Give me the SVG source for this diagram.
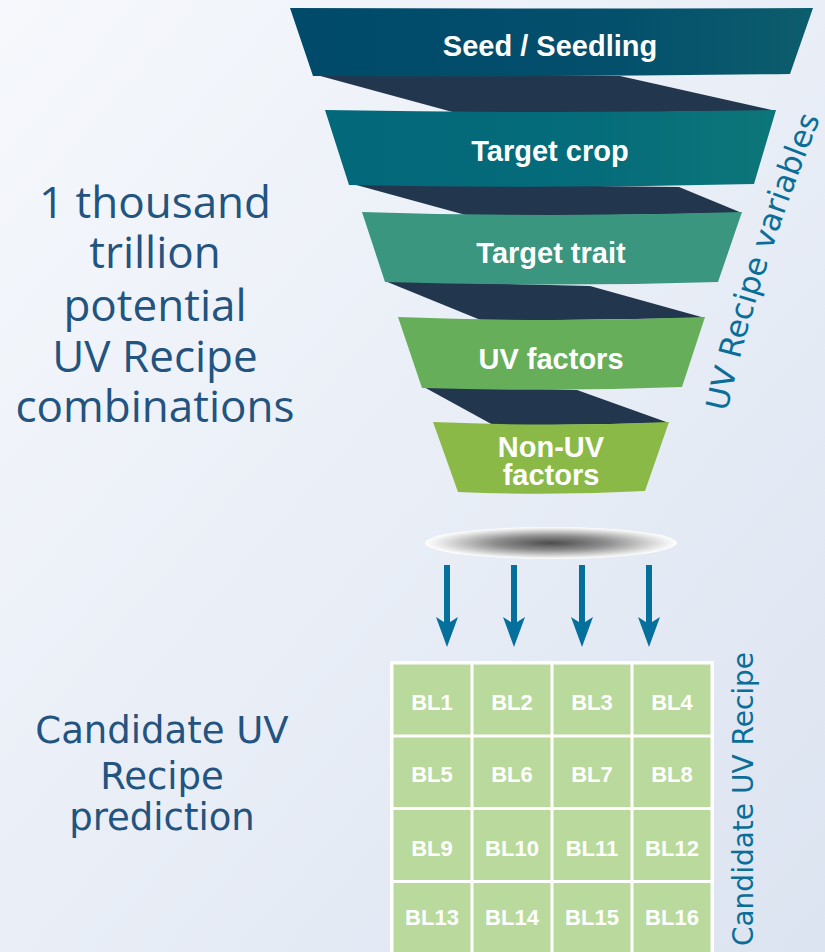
<svg xmlns="http://www.w3.org/2000/svg" width="825" height="952" viewBox="0 0 825 952">
  <defs>
    <linearGradient id="bg" x1="0" y1="0" x2="1" y2="1">
      <stop offset="0" stop-color="#f6f8fc"/>
      <stop offset="1" stop-color="#dce4f1"/>
    </linearGradient>
    <linearGradient id="g1" x1="0" y1="0" x2="1" y2="0">
      <stop offset="0" stop-color="#014a6a"/>
      <stop offset="0.6" stop-color="#034f6c"/>
      <stop offset="1" stop-color="#0c5d6d"/>
    </linearGradient>
    <linearGradient id="g2" x1="0" y1="0" x2="1" y2="0">
      <stop offset="0" stop-color="#03687a"/>
      <stop offset="0.6" stop-color="#056c7a"/>
      <stop offset="1" stop-color="#0d7679"/>
    </linearGradient>
    <radialGradient id="shadow" cx="0.5" cy="0.5" r="0.5">
      <stop offset="0" stop-color="#4c4c4c"/>
      <stop offset="0.45" stop-color="#8e8e8e"/>
      <stop offset="0.85" stop-color="#e2e2e2"/>
      <stop offset="1" stop-color="#ffffff"/>
    </radialGradient>
    <!-- notched arrowhead, pointing along +x; refX sits on the notch -->
    <marker id="head" viewBox="0 0 30 22" refX="7" refY="11" markerWidth="30" markerHeight="22" markerUnits="userSpaceOnUse" orient="auto">
      <path d="M0,0 L30,11 L0,22 L7,11 Z" fill="#05709b"/>
    </marker>
    <style>
      .ribbon { fill: #22364e; }
      .band-label { font-family: "Liberation Sans", Arial, sans-serif; font-weight: bold; font-size: 29px; fill: #ffffff; text-anchor: middle; }
      .cell { fill: #b9da9c; }
      .cell-label { font-family: "Liberation Sans", Arial, sans-serif; font-weight: bold; font-size: 22px; fill: #ffffff; text-anchor: middle; }
      .side-top { font-family: "Open Sans", "Noto Sans", sans-serif; font-size: 44px; fill: #23537f; text-anchor: middle; }
      .side-bottom { font-family: "DejaVu Sans", sans-serif; font-size: 37px; fill: #23537f; text-anchor: middle; }
      .axis-label { font-family: "DejaVu Sans", sans-serif; font-size: 28px; fill: #0a6e98; }
      .arrow { stroke: #05709b; stroke-width: 6; fill: none; }
    </style>
  </defs>

  <rect x="0" y="0" width="825" height="952" fill="url(#bg)"/>

  <!-- dark back faces of the funnel ribbon between the bands -->
  <g id="ribbons">
    <polygon class="ribbon" points="313,74 620,76 776,111 460,114"/>
    <polygon class="ribbon" points="349,183 679,187 742,213 473,217"/>
    <polygon class="ribbon" points="385,281 590,286 705,318 483,321"/>
    <polygon class="ribbon" points="422,386 577,390 669,423 495,426"/>
  </g>

  <!-- funnel bands -->
  <g id="band-seed">
    <path d="M290,8 Q551,9 813,8 L790,74 Q551,77 313,76 Z" fill="url(#g1)"/>
    <text class="band-label" x="550" y="56">Seed / Seedling</text>
  </g>
  <g id="band-crop">
    <path d="M325,110 Q550,114 776,110 L754,184 Q551,189 349,185 Z" fill="url(#g2)"/>
    <text class="band-label" x="550" y="161">Target crop</text>
  </g>
  <g id="band-trait">
    <path d="M362,212 Q552,218 742,212 L718,282 Q551,287 385,282 Z" fill="#3a967f"/>
    <text class="band-label" x="551" y="263">Target trait</text>
  </g>
  <g id="band-uv">
    <path d="M398,317 Q552,323 705,317 L682,387 Q552,392 422,388 Z" fill="#67ae5b"/>
    <text class="band-label" x="551" y="369">UV factors</text>
  </g>
  <g id="band-nonuv">
    <path d="M433,422 Q551,427 669,422 L645,491 Q551,496 458,492 Z" fill="#8bb947"/>
    <text class="band-label" x="551" y="457">Non-UV</text>
    <text class="band-label" x="551" y="485">factors</text>
  </g>

  <!-- shadow under the funnel -->
  <g id="funnel-shadow">
    <ellipse cx="551" cy="543" rx="126" ry="16" fill="url(#shadow)"/>
  </g>

  <!-- arrows down to the recipe grid -->
  <g id="connectors">
    <line class="arrow" x1="447" y1="565" x2="447" y2="624" marker-end="url(#head)"/>
    <line class="arrow" x1="514" y1="565" x2="514" y2="624" marker-end="url(#head)"/>
    <line class="arrow" x1="582" y1="565" x2="582" y2="624" marker-end="url(#head)"/>
    <line class="arrow" x1="649" y1="565" x2="649" y2="624" marker-end="url(#head)"/>
  </g>

  <!-- candidate recipe grid -->
  <g id="recipe-grid">
    <rect x="390" y="661" width="324" height="300" fill="#ffffff"/>
    <g id="row1">
      <rect class="cell" x="393.5" y="664.5" width="77" height="70"/>
      <rect class="cell" x="473.5" y="664.5" width="77" height="70"/>
      <rect class="cell" x="553.5" y="664.5" width="77" height="70"/>
      <rect class="cell" x="633.5" y="664.5" width="77" height="70"/>
      <text class="cell-label" x="432" y="710">BL1</text>
      <text class="cell-label" x="512" y="710">BL2</text>
      <text class="cell-label" x="592" y="710">BL3</text>
      <text class="cell-label" x="672" y="710">BL4</text>
    </g>
    <g id="row2">
      <rect class="cell" x="393.5" y="737.5" width="77" height="69.5"/>
      <rect class="cell" x="473.5" y="737.5" width="77" height="69.5"/>
      <rect class="cell" x="553.5" y="737.5" width="77" height="69.5"/>
      <rect class="cell" x="633.5" y="737.5" width="77" height="69.5"/>
      <text class="cell-label" x="432" y="782">BL5</text>
      <text class="cell-label" x="512" y="782">BL6</text>
      <text class="cell-label" x="592" y="782">BL7</text>
      <text class="cell-label" x="672" y="782">BL8</text>
    </g>
    <g id="row3">
      <rect class="cell" x="393.5" y="810" width="77" height="70"/>
      <rect class="cell" x="473.5" y="810" width="77" height="70"/>
      <rect class="cell" x="553.5" y="810" width="77" height="70"/>
      <rect class="cell" x="633.5" y="810" width="77" height="70"/>
      <text class="cell-label" x="432" y="856">BL9</text>
      <text class="cell-label" x="512" y="856">BL10</text>
      <text class="cell-label" x="592" y="856">BL11</text>
      <text class="cell-label" x="672" y="856">BL12</text>
    </g>
    <g id="row4">
      <rect class="cell" x="393.5" y="883" width="77" height="75"/>
      <rect class="cell" x="473.5" y="883" width="77" height="75"/>
      <rect class="cell" x="553.5" y="883" width="77" height="75"/>
      <rect class="cell" x="633.5" y="883" width="77" height="75"/>
      <text class="cell-label" x="432" y="925">BL13</text>
      <text class="cell-label" x="512" y="925">BL14</text>
      <text class="cell-label" x="592" y="925">BL15</text>
      <text class="cell-label" x="672" y="925">BL16</text>
    </g>
  </g>

  <!-- side captions -->
  <g id="caption-combinations">
    <text class="side-top" x="155" y="218">1 thousand</text>
    <text class="side-top" x="155" y="268">trillion</text>
    <text class="side-top" x="155" y="321">potential</text>
    <text class="side-top" x="155" y="372">UV Recipe</text>
    <text class="side-top" x="155" y="422">combinations</text>
  </g>
  <g id="caption-prediction">
    <text class="side-bottom" x="162" y="743">Candidate UV</text>
    <text class="side-bottom" x="162" y="789">Recipe</text>
    <text class="side-bottom" x="162" y="830">prediction</text>
  </g>

  <!-- rotated axis labels -->
  <g id="label-variables">
    <path id="varPath" d="M727,412 Q758,270 826,104" fill="none"/>
    <text class="axis-label" style="font-size:31px"><textPath href="#varPath">UV Recipe variables</textPath></text>
  </g>
  <g id="label-candidate">
    <text class="axis-label" transform="translate(753,799) rotate(-90)" text-anchor="middle">Candidate UV Recipe</text>
  </g>
</svg>
